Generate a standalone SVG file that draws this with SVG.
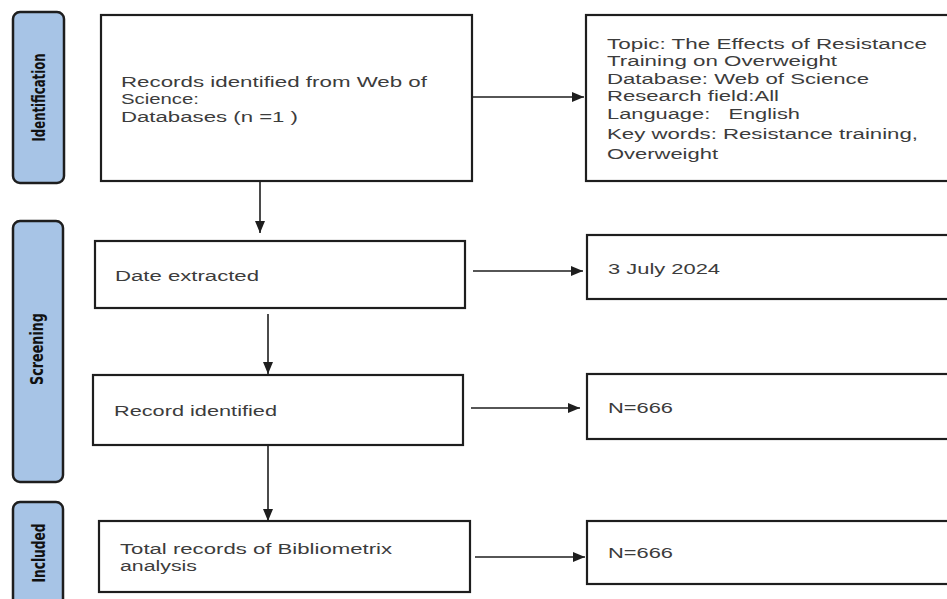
<svg xmlns="http://www.w3.org/2000/svg" width="947" height="599" viewBox="0 0 947 599">
<style>
  .bg{fill:#ffffff}
  .stage{fill:#a7c4e6;stroke:#1e1e1e;stroke-width:2.5}
  .stxt{font-family:"Liberation Sans Narrow","DejaVu Sans Condensed","Liberation Sans",sans-serif;font-weight:bold;font-size:18px;fill:#111111}
  .box{fill:#ffffff;stroke:#1e1e1e;stroke-width:2.2}
  .t{font-family:"Liberation Sans",Arial,sans-serif;font-size:15.5px;fill:#3c3c3c}
  .conn{stroke:#1e1e1e;stroke-width:1.6;fill:none}
</style>
<defs>
  <marker id="ah" viewBox="0 0 12 10" refX="12" refY="5" markerWidth="12" markerHeight="10" markerUnits="userSpaceOnUse" orient="auto">
    <path d="M0,0 L12,5 L0,10 Z" fill="#1e1e1e"/>
  </marker>
</defs>
<rect class="bg" x="0" y="0" width="947" height="599"/>

<g id="stage-identification">
  <rect class="stage" x="13" y="12" width="51" height="171" rx="7"/>
  <text class="stxt" transform="translate(45,97.5) rotate(-90)" text-anchor="middle" textLength="88" lengthAdjust="spacingAndGlyphs">Identification</text>
</g>
<g id="stage-screening">
  <rect class="stage" x="13" y="221" width="50" height="261" rx="7"/>
  <text class="stxt" transform="translate(43,349) rotate(-90)" text-anchor="middle" textLength="72" lengthAdjust="spacingAndGlyphs">Screening</text>
</g>
<g id="stage-included">
  <rect class="stage" x="13" y="502" width="50" height="110" rx="7"/>
  <text class="stxt" transform="translate(45,553) rotate(-90)" text-anchor="middle" textLength="59" lengthAdjust="spacingAndGlyphs">Included</text>
</g>

<g id="node-records">
  <rect class="box" x="101" y="15" width="371" height="166"/>
  <text class="t" x="121" y="86.5" textLength="306" lengthAdjust="spacingAndGlyphs">Records identified from Web of</text>
  <text class="t" x="121" y="104" textLength="78" lengthAdjust="spacingAndGlyphs">Science:</text>
  <text class="t" x="121" y="121.5" textLength="177" lengthAdjust="spacingAndGlyphs">Databases (n =1 )</text>
</g>
<g id="node-topic">
  <rect class="box" x="586" y="15" width="370" height="166"/>
  <text class="t" x="607" y="49" textLength="320" lengthAdjust="spacingAndGlyphs">Topic: The Effects of Resistance</text>
  <text class="t" x="607" y="66" textLength="230" lengthAdjust="spacingAndGlyphs">Training on Overweight</text>
  <text class="t" x="607" y="83.5" textLength="262" lengthAdjust="spacingAndGlyphs">Database: Web of Science</text>
  <text class="t" x="607" y="101" textLength="172" lengthAdjust="spacingAndGlyphs">Research field:All</text>
  <text class="t" x="607" y="119" textLength="193" lengthAdjust="spacingAndGlyphs" xml:space="preserve">Language:   English</text>
  <text class="t" x="607" y="139" textLength="311" lengthAdjust="spacingAndGlyphs">Key words: Resistance training,</text>
  <text class="t" x="607" y="159" textLength="111" lengthAdjust="spacingAndGlyphs">Overweight</text>
</g>

<g id="node-date">
  <rect class="box" x="95" y="241" width="370" height="67"/>
  <text class="t" x="115" y="281" textLength="144" lengthAdjust="spacingAndGlyphs">Date extracted</text>
</g>
<g id="node-date-value">
  <rect class="box" x="587" y="235" width="370" height="64"/>
  <text class="t" x="608" y="274" textLength="112" lengthAdjust="spacingAndGlyphs">3 July 2024</text>
</g>

<g id="node-record-identified">
  <rect class="box" x="93" y="375" width="370" height="70"/>
  <text class="t" x="114" y="416" textLength="163" lengthAdjust="spacingAndGlyphs">Record identified</text>
</g>
<g id="node-n1">
  <rect class="box" x="587" y="374" width="370" height="65"/>
  <text class="t" x="608" y="413" textLength="65" lengthAdjust="spacingAndGlyphs">N=666</text>
</g>

<g id="node-total">
  <rect class="box" x="99" y="521" width="371" height="71"/>
  <text class="t" x="120" y="553.5" textLength="272" lengthAdjust="spacingAndGlyphs">Total records of Bibliometrix</text>
  <text class="t" x="120" y="571" textLength="77" lengthAdjust="spacingAndGlyphs">analysis</text>
</g>
<g id="node-n2">
  <rect class="box" x="587" y="521" width="370" height="63"/>
  <text class="t" x="608" y="558" textLength="65" lengthAdjust="spacingAndGlyphs">N=666</text>
</g>

<g id="connectors">
  <line class="conn" x1="472" y1="97" x2="584" y2="97" marker-end="url(#ah)"/>
  <line class="conn" x1="260" y1="181" x2="260" y2="233" marker-end="url(#ah)"/>
  <line class="conn" x1="473" y1="271" x2="583" y2="271" marker-end="url(#ah)"/>
  <line class="conn" x1="268" y1="314" x2="268" y2="374" marker-end="url(#ah)"/>
  <line class="conn" x1="471" y1="408" x2="580" y2="408" marker-end="url(#ah)"/>
  <line class="conn" x1="268" y1="445" x2="268" y2="521" marker-end="url(#ah)"/>
  <line class="conn" x1="475" y1="557" x2="585" y2="557" marker-end="url(#ah)"/>
</g>
</svg>
